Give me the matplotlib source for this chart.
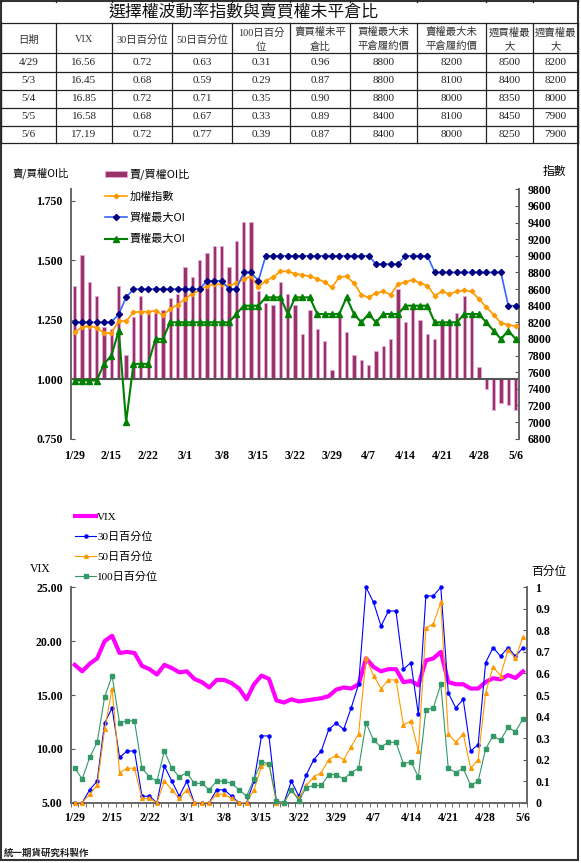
import matplotlib.pyplot as plt
from matplotlib.lines import Line2D
from matplotlib.patches import Patch, Rectangle
from matplotlib.ticker import FixedLocator

# ---------------- data ----------------
tick_labels = ['1/29', '2/15', '2/22', '3/1', '3/8', '3/15', '3/22',
               '3/29', '4/7', '4/14', '4/21', '4/28', '5/6']

# 賣/買權OI比
oi_ratio = [1.39, 1.52, 1.41, 1.35, 1.22, 1.21, 1.39, 1.10, 1.26, 1.35,
            1.28, 1.28, 1.29, 1.34, 1.36, 1.47, 1.43, 1.50, 1.53, 1.56,
            1.56, 1.47, 1.58, 1.66, 1.66, 1.37, 1.32, 1.31, 1.41, 1.36,
            1.31, 1.19, 1.29, 1.21, 1.16, 1.04, 1.27, 1.20, 1.10, 1.08,
            1.06, 1.12, 1.14, 1.17, 1.38, 1.24, 1.31, 1.25, 1.19, 1.17,
            1.24, 1.25, 1.28, 1.35, 1.26, 1.05, 0.96, 0.87, 0.90, 0.89, 0.87]
# 加權指數
taiex = [8080, 8140, 8160, 8132, 8072, 8072, 8220, 8212, 8320, 8328,
         8328, 8340, 8284, 8360, 8412, 8480, 8544, 8584, 8640, 8660,
         8656, 8640, 8672, 8720, 8752, 8624, 8700, 8744, 8812, 8812,
         8784, 8772, 8752, 8724, 8684, 8620, 8744, 8752, 8672, 8532,
         8500, 8552, 8572, 8532, 8660, 8684, 8712, 8672, 8640, 8520,
         8572, 8540, 8572, 8584, 8572, 8480, 8384, 8292, 8192, 8172, 8152]
# 買權最大OI
call_oi = [8200, 8200, 8200, 8200, 8200, 8200, 8300, 8500, 8600, 8600,
           8600, 8600, 8600, 8600, 8600, 8600, 8600, 8600, 8700, 8700,
           8700, 8600, 8600, 8800, 8800, 8700, 9000, 9000, 9000, 9000,
           9000, 9000, 9000, 9000, 9000, 9000, 9000, 9000, 9000, 9000,
           9000, 8900, 8900, 8900, 8900, 9000, 9000, 9000, 9000, 8800,
           8800, 8800, 8800, 8800, 8800, 8800, 8800, 8800, 8800, 8400, 8400]
# 賣權最大OI
put_oi = [7500, 7500, 7500, 7500, 7700, 7800, 8100, 7000, 7700, 7700,
          7700, 8000, 8000, 8200, 8200, 8200, 8200, 8200, 8200, 8200,
          8200, 8200, 8300, 8400, 8400, 8400, 8500, 8500, 8500, 8300,
          8500, 8500, 8500, 8300, 8300, 8300, 8300, 8500, 8300, 8200,
          8300, 8200, 8300, 8300, 8300, 8400, 8400, 8400, 8400, 8200,
          8200, 8200, 8200, 8300, 8300, 8300, 8200, 8100, 8000, 8100, 8000]

vix = [17.8, 17.2, 17.9, 18.4, 20.0, 20.5, 18.9, 19.0, 18.9, 17.7,
       17.4, 16.9, 17.8, 17.5, 17.1, 17.2, 16.5, 16.2, 15.7, 16.4,
       16.4, 16.1, 15.6, 14.6, 16.0, 16.8, 16.5, 14.5, 14.3, 14.6,
       14.4, 14.5, 14.6, 14.7, 14.9, 15.5, 15.7, 15.6, 16.0, 18.4,
       17.6, 17.2, 17.4, 17.4, 16.2, 16.3, 15.9, 18.2, 18.4, 19.0,
       16.2, 16.0, 16.0, 15.6, 15.6, 16.2, 16.56, 16.45, 16.85, 16.58, 17.19]
p30 = [0, 0, 0.06, 0.10, 0.37, 0.44, 0.21, 0.24, 0.24, 0.03,
       0.03, 0, 0.17, 0.10, 0.03, 0.10, 0, 0, 0, 0.06,
       0.06, 0.03, 0, 0, 0.10, 0.31, 0.31, 0, 0, 0.10,
       0.03, 0.13, 0.20, 0.24, 0.34, 0.37, 0.34, 0.44, 0.55, 1.0,
       0.93, 0.82, 0.89, 0.89, 0.62, 0.65, 0.41, 0.96, 0.96, 1.0,
       0.51, 0.44, 0.48, 0.24, 0.27, 0.65, 0.72, 0.68, 0.72, 0.68, 0.72]
p50 = [0, 0, 0.04, 0.08, 0.34, 0.53, 0.14, 0.16, 0.16, 0.02,
       0.02, 0, 0.10, 0.06, 0.02, 0.06, 0, 0, 0, 0.04,
       0.04, 0.02, 0, 0, 0.06, 0.17, 0.18, 0, 0, 0.06,
       0.02, 0.08, 0.12, 0.14, 0.20, 0.22, 0.20, 0.26, 0.32, 0.67,
       0.59, 0.53, 0.57, 0.57, 0.36, 0.38, 0.24, 0.81, 0.83, 0.93,
       0.32, 0.28, 0.32, 0.16, 0.20, 0.51, 0.63, 0.59, 0.71, 0.67, 0.77]
p100 = [0.16, 0.11, 0.21, 0.28, 0.49, 0.59, 0.37, 0.38, 0.38, 0.16,
        0.12, 0.10, 0.24, 0.16, 0.12, 0.14, 0.09, 0.09, 0.06, 0.10,
        0.10, 0.09, 0.06, 0.03, 0.11, 0.19, 0.18, 0.01, 0, 0.06,
        0.01, 0.07, 0.08, 0.08, 0.13, 0.13, 0.11, 0.14, 0.16, 0.37,
        0.29, 0.26, 0.28, 0.28, 0.18, 0.19, 0.12, 0.43, 0.44, 0.55,
        0.16, 0.14, 0.16, 0.08, 0.10, 0.25, 0.31, 0.29, 0.35, 0.33, 0.39]

# 表格
tbl_head = ['日期', 'VIX', '30日百分位', '50日百分位', '100日百分\n位', '賣買權未平\n倉比',
            '買權最大未\n平倉履約價', '賣權最大未\n平倉履約價', '週買權最\n大', '週賣權最\n大']
tbl_date = ['4/29', '5/3', '5/4', '5/5', '5/6']
tbl_vix = ['16.56', '16.45', '16.85', '16.58', '17.19']
tbl_p30 = ['0.72', '0.68', '0.72', '0.68', '0.72']
tbl_p50 = ['0.63', '0.59', '0.71', '0.67', '0.77']
tbl_p100 = ['0.31', '0.29', '0.35', '0.33', '0.39']
tbl_ratio = ['0.96', '0.87', '0.90', '0.89', '0.87']
tbl_call = ['8800', '8800', '8800', '8400', '8400']
tbl_put = ['8200', '8100', '8000', '8100', '8000']
tbl_wcall = ['8500', '8400', '8350', '8450', '8250']
tbl_wput = ['8200', '8200', '8000', '7900', '7900']

# ---------------- figure ----------------
W, H = 581, 863
SERIF = ['Liberation Serif', 'Noto Sans CJK TC']
CJK = ['Noto Sans CJK TC', 'DejaVu Sans']
MIX = ['Liberation Serif', 'Noto Sans CJK TC']
plt.rcParams['font.family'] = SERIF


def fx(x):
    return x / W


def fy(y):
    return 1 - y / H


fig = plt.figure(figsize=(W / 100, H / 100), dpi=100)
x = list(range(len(oi_ratio)))

# 外框
fig.add_artist(Rectangle((fx(1), fy(860)), fx(577), 859 / H, transform=fig.transFigure,
                         fill=False, ec='#333333', lw=1.5))

# 表格線
col_x = [1, 56, 112, 172, 232, 290, 350, 417, 486, 533, 578]
row_y = [23.3, 53.3, 71.7, 90, 107.7, 125.7, 143.3]
for yy in row_y:
    fig.add_artist(Line2D([fx(1), fx(578)], [fy(yy), fy(yy)], transform=fig.transFigure,
                          color='#222222', lw=0.9))
for xx in col_x:
    fig.add_artist(Line2D([fx(xx), fx(xx)], [fy(row_y[0]), fy(row_y[-1])],
                          transform=fig.transFigure, color='#222222', lw=0.9))
    fig.add_artist(Line2D([fx(xx), fx(xx)], [fy(0), fy(2)],
                          transform=fig.transFigure, color='#222222', lw=0.9))

fig.text(fx(243), fy(12), '選擇權波動率指數與賣買權未平倉比', family=CJK, fontsize=12.2,
         ha='center', va='center', color='#111111')

for i, h in enumerate(tbl_head):
    cx = (col_x[i] + col_x[i + 1]) / 2
    fig.text(fx(cx), fy(39.5), h, family=MIX, fontsize=7.5, ha='center', va='center',
             linespacing=1.55, color='#333333')

tbl_cols = [tbl_date, tbl_vix, tbl_p30, tbl_p50, tbl_p100, tbl_ratio,
            tbl_call, tbl_put, tbl_wcall, tbl_wput]
for i, col in enumerate(tbl_cols):
    cx = (col_x[i] + col_x[i + 1]) / 2
    for r, val in enumerate(col):
        cy = (row_y[r + 1] + row_y[r + 2]) / 2
        fig.text(fx(cx), fy(cy), val, family=SERIF, fontsize=8, ha='center', va='center',
                 color='#222222')

# ---------------- 上圖: 賣/買權OI比 ----------------
ax1 = fig.add_axes([fx(71), fy(438.7), (519.3 - 71) / W, (438.7 - 189.3) / H])
ax1.bar(x, [v - 1 for v in oi_ratio], bottom=1.0, width=0.45, color='#993366',
        edgecolor='#E8A8E0', lw=0.6, zorder=2)
ax1.axhline(1.0, color='#555555', lw=1.5, zorder=3)
ax1.set_xlim(-0.5, len(x) - 0.5)
ax1.set_ylim(0.75, 1.798)
yt = [0.75, 1.0, 1.25, 1.5, 1.75]
ax1.set_yticks(yt, labels=['%.3f' % v for v in yt], fontweight='bold', fontsize=8.5)
ax1.set_xticks(list(range(0, len(x), 5)), labels=tick_labels, fontweight='bold', fontsize=8.5)
ax1.tick_params(axis='x', length=0, pad=8)
ax1.tick_params(axis='y', direction='in', length=3, color='#555555', pad=6)
for s in ['top', 'bottom']:
    ax1.spines[s].set_visible(False)
for s in ['left', 'right']:
    ax1.spines[s].set_color('#666666')
    ax1.spines[s].set_linewidth(1.2)
ax1.patch.set_visible(False)

ax2 = ax1.twinx()
ax2.plot(x, taiex, color='#FF9900', lw=1.2, marker='D', ms=2.3, mfc='#FF9900',
         mec='#FF9900', zorder=4)
ax2.plot(x, call_oi, color='#3366FF', lw=1.2, marker='D', ms=3.1, mfc='#000080',
         mec='#000080', zorder=5)
ax2.plot(x, put_oi, color='#008000', lw=1.5, marker='^', ms=4.5, mfc='#008000',
         mec='#008000', zorder=5)
ax2.set_ylim(6800, 9800)
rt = list(range(6800, 9801, 200))
ax2.set_yticks(rt, labels=[str(v) for v in rt], fontweight='bold', fontsize=8.5)
ax2.tick_params(axis='y', direction='in', length=3, color='#555555', pad=6)
for s in ['top', 'bottom']:
    ax2.spines[s].set_visible(False)
for s in ['left', 'right']:
    ax2.spines[s].set_color('#666666')
    ax2.spines[s].set_linewidth(1.2)

fig.text(fx(12), fy(173), '賣/買權OI比', family=CJK, fontsize=7.5, ha='left', va='center')
fig.text(fx(554), fy(172), '指數', family=CJK, fontsize=8.5, ha='center', va='center')

top_handles = [
    Patch(facecolor='#993366', edgecolor='#E8A8E0', lw=0.6),
    Line2D([], [], color='#FF9900', lw=1.2, marker='D', ms=2.3, mfc='#FF9900', mec='#FF9900'),
    Line2D([], [], color='#3366FF', lw=1.2, marker='D', ms=3.1, mfc='#000080', mec='#000080'),
    Line2D([], [], color='#008000', lw=1.5, marker='^', ms=4.5, mfc='#008000', mec='#008000'),
]
fig.legend(top_handles, ['賣/買權OI比', '加權指數', '買權最大OI', '賣權最大OI'],
           loc='upper left', bbox_to_anchor=(fx(105), fy(169)), frameon=False,
           prop={'family': CJK, 'size': 8}, handlelength=2.0, handleheight=0.5,
           handletextpad=0.2, labelspacing=1.0, borderpad=0, borderaxespad=0)

# ---------------- 下圖: VIX ----------------
ax3 = fig.add_axes([fx(71), fy(802.7), (526.7 - 71) / W, (802.7 - 587.3) / H])
ax3.plot(x, vix, color='#FF00FF', lw=3, solid_joinstyle='round', zorder=3)
ax3.set_xlim(-0.5, len(x) - 0.5)
ax3.set_ylim(5, 25)
vt = [5, 10, 15, 20, 25]
ax3.set_yticks(vt, labels=['%.2f' % v for v in vt], fontweight='bold', fontsize=8.5)
ax3.set_xticks(list(range(0, len(x), 5)), labels=tick_labels, fontweight='bold', fontsize=8.5)
ax3.xaxis.set_minor_locator(FixedLocator([i - 0.5 for i in range(len(x) + 1)]))
ax3.tick_params(axis='x', which='major', length=0, pad=7)
ax3.tick_params(axis='x', which='minor', direction='out', length=3, color='#555555')
ax3.tick_params(axis='y', direction='in', length=3, color='#555555', pad=6)
ax3.spines['top'].set_visible(False)
for s in ['left', 'right', 'bottom']:
    ax3.spines[s].set_color('#666666')
    ax3.spines[s].set_linewidth(1.2)

ax4 = ax3.twinx()
ax4.plot(x, p30, color='#0000FF', lw=0.8, marker='o', ms=2.2, clip_on=False, zorder=4)
ax4.plot(x, p50, color='#FF9900', lw=0.8, marker='^', ms=2.7, clip_on=False, zorder=4)
ax4.plot(x, p100, color='#339966', lw=0.8, marker='s', ms=2.5, clip_on=False, zorder=4)
ax4.set_ylim(0, 1)
pt = [i / 10 for i in range(11)]
ax4.set_yticks(pt, labels=['0' if v == 0 else ('1' if v == 1 else '%.1f' % v) for v in pt],
               fontweight='bold', fontsize=8.5)
ax4.tick_params(axis='y', direction='in', length=3, color='#555555', pad=6)
ax4.spines['top'].set_visible(False)
for s in ['left', 'right', 'bottom']:
    ax4.spines[s].set_color('#666666')
    ax4.spines[s].set_linewidth(1.2)

fig.text(fx(40), fy(569), 'VIX', family=SERIF, fontsize=8.5, ha='center', va='center')
fig.text(fx(549), fy(571), '百分位', family=CJK, fontsize=8.5, ha='center', va='center')

bot_handles = [
    Line2D([], [], color='#FF00FF', lw=3),
    Line2D([], [], color='#0000FF', lw=0.8, marker='o', ms=2.2),
    Line2D([], [], color='#FF9900', lw=0.8, marker='^', ms=2.7),
    Line2D([], [], color='#339966', lw=0.8, marker='s', ms=2.5),
]
fig.legend(bot_handles, ['VIX', '30日百分位', '50日百分位', '100日百分位'],
           loc='upper left', bbox_to_anchor=(fx(75), fy(512.5)), frameon=False,
           prop={'family': MIX, 'size': 8}, handlelength=1.9, handletextpad=0.1,
           labelspacing=0.88, borderpad=0, borderaxespad=0)

fig.text(fx(4), fy(853), '統一期貨研究科製作', family=CJK, fontsize=6.8, fontweight='bold',
         ha='left', va='center', color='#222222')

fig.savefig('out.png', dpi=100)
